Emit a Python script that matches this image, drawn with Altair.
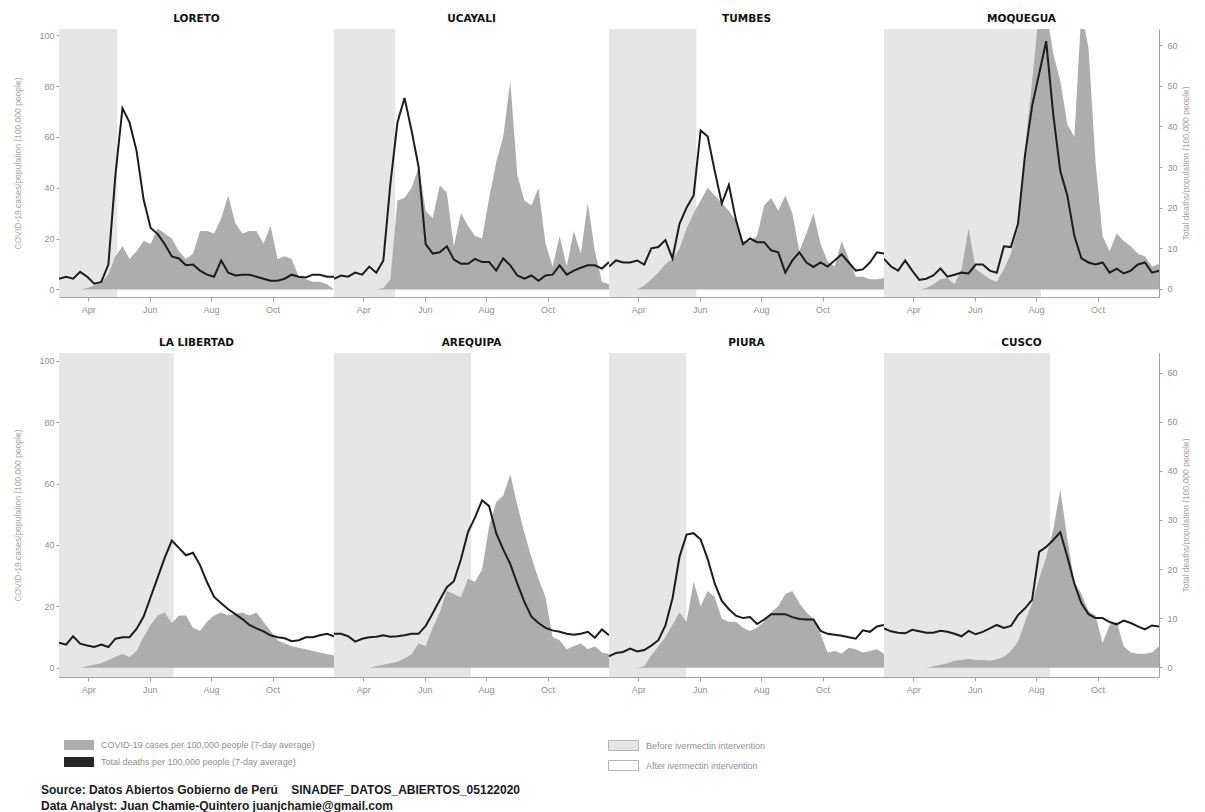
import altair as alt
import pandas as pd

FONT = "Liberation Sans"

REGIONS = ["LORETO", "UCAYALI", "TUMBES", "MOQUEGUA",
           "LA LIBERTAD", "AREQUIPA", "PIURA", "CUSCO"]

# weekly sample dates (Mar 3 2020 .. Dec 1 2020)
WEEKS = pd.date_range("2020-03-03", periods=40, freq="7D")

LORETO_CASES = [0, 0, 0, 0, 0.5, 1.5, 2.5, 6, 13, 17, 12, 15, 19, 18, 24, 22, 20, 15, 12, 14,
                23, 23, 22, 28, 37, 26, 22, 23, 23, 18, 25, 12, 13, 12, 5, 4, 3, 3, 2, 0]
LORETO_DEATHS = [2.5, 3, 2.5, 4.2, 3, 1.3, 1.7, 6, 28, 44.5, 41, 34, 22, 15, 13.5, 11, 8, 7.5, 5.8, 6,
                 4.5, 3.5, 3, 7, 4, 3.3, 3.5, 3.5, 3, 2.5, 2, 2, 2.5, 3.5, 3, 2.8, 3.5, 3.5, 3, 3]

UCAYALI_CASES = [0, 0, 0, 0, 0, 0, 0, 0.5, 4, 35, 36, 40, 48, 31, 28, 41, 38, 17, 30, 25,
                 21, 20, 36, 50, 60, 82, 45, 35, 33, 40, 18, 9, 21, 9, 23, 14, 34, 15, 3, 2]
UCAYALI_DEATHS = [2.5, 3.3, 3, 4, 3.5, 5.5, 4, 7, 26, 41, 47, 39, 30, 11, 8.7, 9, 10.5, 7.2, 6.2, 6.2,
                  7.4, 6.6, 6.6, 4.5, 7.5, 5.8, 3.3, 2.5, 3.3, 2, 3.3, 3.5, 5.8, 3.5, 4.5, 5.2, 5.8, 5.8, 5, 6.6]

TUMBES_CASES = [0, 0, 0, 0, 0, 1.5, 4, 6.5, 10, 12, 16, 24, 30, 35, 40, 37, 34, 31, 27, 19,
                19, 21, 33, 36, 31, 37, 30, 15, 22, 30, 18, 11, 9, 19, 12, 5, 5, 4, 4, 4.5]
TUMBES_DEATHS = [5.5, 7, 6.5, 6.5, 7, 6, 10, 10.3, 12, 7.5, 16, 20, 23, 39, 37.5, 29, 21, 25.6, 17, 11,
                 12.4, 11.5, 11.5, 9.5, 9, 4, 7, 9, 6.5, 5.4, 6.5, 5.5, 7, 8.5, 6.5, 4.5, 4.8, 6.5, 9, 8.7]

MOQUEGUA_CASES = [0, 0, 0, 0, 0, 0, 0.5, 2, 4, 4.5, 2, 8, 24, 8, 6, 4, 3, 8, 14, 24,
                  55, 82, 110, 110, 93, 82, 65, 60, 110, 95, 50, 21, 15, 22, 19, 17, 14, 13, 9, 10]
MOQUEGUA_DEATHS = [7.4, 5.5, 4.5, 7, 4.5, 2.2, 2.5, 3.3, 5, 3, 3.5, 4, 3.8, 6, 6, 4.5, 4, 10.5, 10.3, 16,
                   33, 45, 53, 61, 43, 29, 23, 13, 7.5, 6.5, 6, 6.5, 4, 5, 3.8, 4.5, 6, 6.5, 4, 4.5]

LA_LIBERTAD_CASES = [0, 0, 0, 0, 0.5, 1, 1.5, 2.5, 3.5, 4.5, 3.5, 5.5, 10, 14, 17, 18, 14.5, 17, 17, 13,
                     12, 15, 17, 18, 17, 17.5, 18, 17, 18, 15, 12, 9, 8, 7, 6.5, 6, 5.5, 5, 4.5, 4]
LA_LIBERTAD_DEATHS = [5, 4.6, 6.3, 4.8, 4.4, 4.1, 4.6, 4.1, 5.8, 6.1, 6.1, 7.8, 10.3, 14.3, 18.3, 22.3,
                      25.8, 24.3, 22.8, 23.3, 20.8, 17.3, 14.3, 13, 11.8, 10.8, 9.8, 8.6, 7.9, 7.3,
                      6.5, 6.1, 5.9, 5.3, 5.5, 6.1, 6.1, 6.5, 6.8, 6.3]

AREQUIPA_CASES = [0, 0, 0, 0, 0, 0, 0.5, 1, 1.5, 2, 3, 4.5, 8, 7, 13, 18, 25, 24, 23, 29,
                  28, 32, 46, 54, 56, 63, 53, 44, 36, 29, 23, 10, 9, 6, 7, 8, 6, 7, 5, 4.5]
AREQUIPA_DEATHS = [6.8, 6.8, 6.3, 5.2, 5.8, 6.1, 6.2, 6.5, 6.2, 6.3, 6.5, 6.8, 6.8, 8.4, 11, 13.7, 16.3,
                   17.5, 22, 27.5, 30.5, 34, 32.8, 27.3, 24, 21, 17, 13.3, 10.3, 9, 8, 7.5, 7.2, 6.8,
                   6.6, 6.8, 7.2, 6, 7.7, 6.5]

PIURA_CASES = [0, 0, 0, 0, 0, 0.5, 4, 7, 10, 14, 18, 15, 28, 20, 25, 23, 16, 15, 15, 13,
               12, 13, 15, 18, 20, 24, 25, 21, 18, 16, 11, 5, 5.5, 4.6, 6.5, 6, 5, 5.5, 6, 4.6]
PIURA_DEATHS = [2.2, 2.9, 3.1, 3.8, 3.2, 3.5, 4.4, 5.5, 8.5, 14, 22.5, 27, 27.3, 26, 22, 17, 13.5, 11.8,
                10.5, 10, 10.2, 8.8, 9.7, 10.8, 10.8, 10.8, 10.2, 9.8, 9.7, 9.7, 7.4, 6.8, 6.6, 6.4,
                6.1, 5.8, 7.5, 7.2, 8.3, 8.6]

CUSCO_CASES = [0, 0, 0, 0, 0, 0, 0, 0.5, 1, 1.5, 2.3, 2.5, 2.9, 2.5, 2.5, 2.3, 2.8, 3.5, 5.5, 8.5,
               15, 21, 29, 36, 45, 58, 42, 28, 24, 18.5, 17, 8, 14, 15, 7, 5, 4.6, 4.6, 5, 7]
CUSCO_DEATHS = [7.9, 7.3, 7, 6.9, 7.6, 7.3, 7, 7, 7.4, 7.2, 6.8, 6.3, 7.4, 6.7, 7.2, 7.9, 8.6, 8, 8.4,
                10.6, 12, 13.7, 23.5, 24.5, 25.9, 27.5, 22.5, 17, 13, 10.8, 10, 10, 9.2, 8.7, 9.5,
                9, 8.3, 7.7, 8.5, 8.3]

# end of the "before ivermectin" period, per region
INTERVENTION = ["2020-04-30", "2020-05-03", "2020-05-29", "2020-08-06",
                "2020-06-25", "2020-07-17", "2020-05-19", "2020-08-15"]
PERIOD_START = "2020-03-03"
PERIOD_END = "2020-12-01"

CASES_LABEL = "COVID-19 cases per 100,000 people (7-day average)"
DEATHS_LABEL = "Total deaths per 100,000 people (7-day average)"
BEFORE_LABEL = "Before ivermectin intervention"
AFTER_LABEL = "After ivermectin intervention"
LEFT_TITLE = "COVID-19 cases/population (100,000 people)"
RIGHT_TITLE = "Total deaths/population (100,000 people)"
SOURCE_LINES = ["Source: Datos Abiertos Gobierno de Perú\u00a0\u00a0\u00a0\u00a0SINADEF_DATOS_ABIERTOS_05122020",
                "Data Analyst: Juan Chamie-Quintero juanjchamie@gmail.com"]

CASES = [LORETO_CASES, UCAYALI_CASES, TUMBES_CASES, MOQUEGUA_CASES,
         LA_LIBERTAD_CASES, AREQUIPA_CASES, PIURA_CASES, CUSCO_CASES]
DEATHS = [LORETO_DEATHS, UCAYALI_DEATHS, TUMBES_DEATHS, MOQUEGUA_DEATHS,
          LA_LIBERTAD_DEATHS, AREQUIPA_DEATHS, PIURA_DEATHS, CUSCO_DEATHS]

rows = []
for reg, cs, ds in zip(REGIONS, CASES, DEATHS):
    for d, c, v in zip(WEEKS, cs, ds):
        rows.append({"region": reg, "date": d, "cases": c, "deaths": v, "series": CASES_LABEL})
data = pd.DataFrame(rows)

prow = []
for reg, iv in zip(REGIONS, INTERVENTION):
    prow.append({"region": reg, "start": pd.Timestamp(PERIOD_START), "end": pd.Timestamp(iv), "period": BEFORE_LABEL})
    prow.append({"region": reg, "start": pd.Timestamp(iv), "end": pd.Timestamp(PERIOD_END), "period": AFTER_LABEL})
periods = pd.DataFrame(prow)

X_DOMAIN = [alt.DateTime(year=2020, month=3, date=3), alt.DateTime(year=2020, month=12, date=1)]
TICKS = [alt.DateTime(year=2020, month=m, date=1) for m in (4, 6, 8, 10)]

GREY_TXT = "#8f8f8f"
GREY_LINE = "#a0a0a0"
PANEL_W = 275

series_legend = alt.Legend(
    title=None, orient="none", legendX=10, legendY=706, direction="vertical",
    symbolType="M-1.5,-0.5H1.5V0.5H-1.5Z", symbolSize=400, symbolStrokeWidth=0,
    labelFont=FONT, labelFontSize=9, labelColor=GREY_TXT, labelOffset=12, labelLimit=500,
    rowPadding=2, symbolOpacity=1)
period_legend = alt.Legend(
    title=None, orient="none", legendX=554, legendY=706, direction="vertical",
    symbolType="M-1.5,-0.5H1.5V0.5H-1.5Z", symbolSize=400, symbolStrokeColor="#b5b5b5",
    symbolStrokeWidth=1, labelFont=FONT, labelFontSize=9, labelColor=GREY_TXT, labelOffset=12,
    labelLimit=500, rowPadding=2, symbolOpacity=1)


def panel(i, region):
    col = i % 4
    h = 268 if i < 4 else 324
    xscale = alt.Scale(domain=X_DOMAIN)
    xaxis = alt.Axis(values=TICKS, format="%b", title=None, labelColor=GREY_TXT, labelFontSize=9,
                     labelFont=FONT, tickColor=GREY_LINE, domainColor=GREY_LINE, tickSize=4,
                     grid=False, labelPadding=4)
    if col == 0:
        yl_axis = alt.Axis(title=LEFT_TITLE, values=[0, 20, 40, 60, 80, 100], labelColor=GREY_TXT,
                           labelFontSize=9, labelFont=FONT, tickColor=GREY_LINE, domainColor=GREY_LINE,
                           tickSize=3, grid=False, titleColor="#a5a5a5", titleFontSize=8.5,
                           titleFontWeight="normal", titleFont=FONT, titlePadding=16)
    else:
        yl_axis = alt.Axis(title=None, labels=False, ticks=False, domain=True, domainColor=GREY_LINE,
                           grid=False, minExtent=0, maxExtent=0)
    if col == 3:
        yr_axis = alt.Axis(title=RIGHT_TITLE, orient="right", values=[0, 10, 20, 30, 40, 50, 60],
                           labelColor=GREY_TXT, labelFontSize=9, labelFont=FONT, tickColor=GREY_LINE,
                           domainColor=GREY_LINE, tickSize=3, grid=False, titleColor="#a5a5a5",
                           titleFontSize=8.5, titleFontWeight="normal", titleFont=FONT,
                           labelPadding=5, titlePadding=13, titleAngle=270)
    else:
        yr_axis = None

    bg = alt.Chart(periods).transform_filter(alt.datum.region == region).mark_rect().encode(
        x=alt.X("start:T", scale=xscale, axis=xaxis),
        x2="end:T",
        color=alt.Color("period:N", scale=alt.Scale(domain=[BEFORE_LABEL, AFTER_LABEL],
                                                    range=["#e6e6e6", "#ffffff"]),
                        legend=period_legend),
    )
    base = alt.Chart(data).transform_filter(alt.datum.region == region)
    area = base.mark_area(clip=True, opacity=1).encode(
        x=alt.X("date:T", scale=xscale, axis=xaxis),
        y=alt.Y("cases:Q", scale=alt.Scale(domain=[-3, 102.5], nice=False, zero=False), axis=yl_axis),
        y2=alt.datum(0),
        fill=alt.Fill("series:N", scale=alt.Scale(domain=[CASES_LABEL, DEATHS_LABEL],
                                                  range=["#adadad", "#262626"]),
                      legend=series_legend),
    )
    line = base.mark_line(color="#1c1c1c", strokeWidth=2, clip=True).encode(
        x=alt.X("date:T", scale=xscale, axis=xaxis),
        y=alt.Y("deaths:Q", scale=alt.Scale(domain=[-2, 64], nice=False, zero=False), axis=yr_axis),
    )
    return alt.layer(bg, area, line).resolve_scale(y="independent").properties(
        width=PANEL_W, height=h,
        title=alt.TitleParams(region, font="DejaVu Sans", fontSize=10.5, fontWeight="bold",
                              color="#111111", offset=5, anchor="middle"),
    )


panels = [panel(i, r) for i, r in enumerate(REGIONS)]
row1 = alt.hconcat(*panels[:4], spacing=0)
row2 = alt.hconcat(*panels[4:], spacing=0)

chart = alt.vconcat(row1, row2, spacing=23).properties(
    title=alt.TitleParams(SOURCE_LINES, orient="bottom", anchor="start", font=FONT, fontSize=12,
                          fontWeight="bold", color="#1a1a1a", lineHeight=16, offset=12, dx=27),
    padding={"left": 5, "top": 5, "right": 0, "bottom": 0},
).configure_view(stroke=None)

chart.save("out.html", embed_options={"renderer": "svg", "actions": False})
